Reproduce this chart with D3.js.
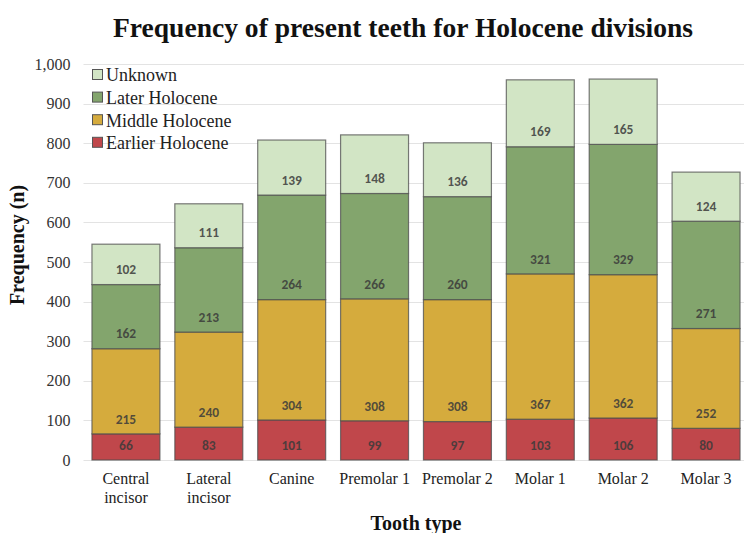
<!DOCTYPE html>
<html>
<head>
<meta charset="utf-8">
<script src="https://cdn.jsdelivr.net/npm/d3@7/dist/d3.min.js"></script>
<style>
  html, body { margin: 0; padding: 0; background: #fff; }
  svg { display: block; }
</style>
</head>
<body>
<svg id="chart" width="744" height="533"></svg>
<script>
// Tooth types (x categories); "\n" splits a label onto two lines
const toothTypes = ["Central\nincisor", "Lateral\nincisor", "Canine", "Premolar 1", "Premolar 2", "Molar 1", "Molar 2", "Molar 3"];

// Counts per Holocene division, stacked bottom to top
const earlierHolocene = [66, 83, 101, 99, 97, 103, 106, 80];
const middleHolocene  = [215, 240, 304, 308, 308, 367, 362, 252];
const laterHolocene   = [162, 213, 264, 266, 260, 321, 329, 271];
const unknown         = [102, 111, 139, 148, 136, 169, 165, 124];

const seriesNames = ["Earlier Holocene", "Middle Holocene", "Later Holocene", "Unknown"];
const seriesValues = [earlierHolocene, middleHolocene, laterHolocene, unknown];
const seriesColors = ["#c0474b", "#d5ab3d", "#83a56d", "#d2e5c5"];

const yTicks = [0, 100, 200, 300, 400, 500, 600, 700, 800, 900, 1000];

const svg = d3.select("#chart");
const serif = "'Liberation Serif', 'Times New Roman', serif";

const plot = { left: 84.5, right: 747.5, top: 64, bottom: 460 };

const x = d3.scaleBand()
  .domain(toothTypes)
  .range([plot.left, plot.right])
  .paddingInner(0.18)
  .paddingOuter(0.09);

const y = d3.scaleLinear().domain([0, 1000]).range([plot.bottom, plot.top]);

// Rows for stacking
const rows = toothTypes.map((t, i) => {
  const r = { type: t };
  seriesNames.forEach((s, k) => { r[s] = seriesValues[k][i]; });
  return r;
});
const stacked = d3.stack().keys(seriesNames)(rows);

// Gridlines
svg.append("g")
  .selectAll("line")
  .data(yTicks)
  .join("line")
  .attr("x1", plot.left - 1)
  .attr("x2", 744)
  .attr("y1", d => Math.round(y(d)) + 0.5)
  .attr("y2", d => Math.round(y(d)) + 0.5)
  .attr("stroke", "#e3e3e3")
  .attr("stroke-width", 1.2);

// Y axis labels
const yAxis = svg.append("g")
  .attr("transform", `translate(${plot.left - 11},0)`)
  .call(d3.axisLeft(y).tickValues(yTicks).tickFormat(d3.format(",")).tickSize(0));
yAxis.select(".domain").remove();
yAxis.selectAll("text")
  .style("font-family", serif)
  .style("font-size", "16px")
  .attr("fill", "#333")
  .attr("dx", 0);

// Stacked bars
const layers = svg.append("g")
  .selectAll("g")
  .data(stacked)
  .join("g")
  .attr("fill", (d, i) => seriesColors[i]);

layers.selectAll("rect")
  .data(d => d)
  .join("rect")
  .attr("x", d => x(d.data.type))
  .attr("width", x.bandwidth())
  .attr("y", d => y(d[1]))
  .attr("height", d => y(d[0]) - y(d[1]))
  .attr("stroke", "#4d4d4d")
  .attr("stroke-opacity", 0.75)
  .attr("stroke-width", 1.2);

// Value labels sit just above each segment's base
layers.selectAll("text")
  .data(d => d.map(p => ({ p, key: d.key })))
  .join("text")
  .attr("x", d => x(d.p.data.type) + x.bandwidth() / 2)
  .attr("y", d => y(d.p[0]) - 15)
  .attr("dy", "0.35em")
  .attr("text-anchor", "middle")
  .style("font-family", "Carlito, 'Liberation Sans', Arial, sans-serif")
  .style("font-weight", "bold")
  .style("font-size", "13.5px")
  .attr("fill", "#3a3a3a")
  .attr("fill-opacity", 0.85)
  .text(d => d.p.data[d.key]);

// X axis category labels
const xLabels = svg.append("g")
  .selectAll("text")
  .data(toothTypes)
  .join("text")
  .attr("x", d => x(d) + x.bandwidth() / 2)
  .attr("y", 484)
  .attr("text-anchor", "middle")
  .style("font-family", serif)
  .style("font-size", "16px")
  .attr("fill", "#222");
xLabels.each(function (d) {
  const lines = d.split("\n");
  d3.select(this).selectAll("tspan")
    .data(lines)
    .join("tspan")
    .attr("x", x(d) + x.bandwidth() / 2)
    .attr("dy", (l, i) => i === 0 ? 0 : 19)
    .text(l => l);
});

// Legend (top entry is the top of the stack)
const legendOrder = [3, 2, 1, 0];
const legend = svg.append("g")
  .selectAll("g")
  .data(legendOrder)
  .join("g")
  .attr("transform", (k, i) => `translate(92,${75 + i * 22.6})`);
legend.append("rect")
  .attr("x", 0.5)
  .attr("y", -5.5)
  .attr("width", 10)
  .attr("height", 10)
  .attr("fill", k => seriesColors[k])
  .attr("stroke", "#555")
  .attr("stroke-width", 1);
legend.append("text")
  .attr("x", 14)
  .attr("y", 0)
  .attr("dy", "0.35em")
  .style("font-family", serif)
  .style("font-size", "18px")
  .attr("fill", "#222")
  .text(k => seriesNames[k]);

// Title
svg.append("text")
  .attr("x", 403)
  .attr("y", 37)
  .attr("text-anchor", "middle")
  .style("font-family", serif)
  .style("font-weight", "bold")
  .style("font-size", "28px")
  .attr("textLength", 580)
  .attr("lengthAdjust", "spacingAndGlyphs")
  .attr("fill", "#111")
  .text("Frequency of present teeth for Holocene divisions");

// Axis titles
svg.append("text")
  .attr("transform", "translate(24,245) rotate(-90)")
  .attr("text-anchor", "middle")
  .style("font-family", serif)
  .style("font-weight", "bold")
  .style("font-size", "20px")
  .attr("fill", "#111")
  .text("Frequency (n)");

svg.append("text")
  .attr("x", 416)
  .attr("y", 530)
  .attr("text-anchor", "middle")
  .style("font-family", serif)
  .style("font-weight", "bold")
  .style("font-size", "20px")
  .attr("fill", "#111")
  .text("Tooth type");
</script>
</body>
</html>
